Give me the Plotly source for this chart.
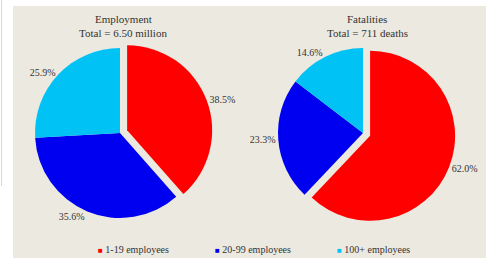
import plotly.graph_objects as go

categories = ["1-19 employees", "20-99 employees", "100+ employees"]
employment_pct = [38.5, 35.6, 25.9]
fatalities_pct = [62.0, 23.3, 14.6]
title_lines = [["Employment", "Total = 6.50 million"], ["Fatalities", "Total = 711 deaths"]]
colors = ["#FF0000", "#0000F0", "#00C2F5"]

W, H = 486, 258
R = 85
PULL = 0.09
half = R * (1 + PULL)

def dom(cx, cy):
    return dict(x=[(cx - half) / W, (cx + half) / W],
                y=[1 - (cy + half) / H, 1 - (cy - half) / H])

font_txt = dict(family="Liberation Serif", size=10, color="#333333")

fig = go.Figure()
for vals, cx in [(employment_pct, 120), (fatalities_pct, 363)]:
    fig.add_trace(go.Pie(
        labels=categories, values=vals, sort=False, direction="clockwise",
        rotation=0, pull=[PULL, 0, 0],
        marker=dict(colors=colors, line=dict(width=0)),
        text=[f"{v:.1f}%" for v in vals], textinfo="text",
        textposition="outside", outsidetextfont=font_txt,
        domain=dom(cx, 133), showlegend=False, hoverinfo="label+percent",
    ))

for lines, cx in zip(title_lines, [123, 367]):
    for j, t in enumerate(lines):
        fig.add_annotation(text=t, x=cx / W, y=1 - (19 + 14 * j) / H, xref="paper", yref="paper",
                           showarrow=False, xanchor="center", yanchor="middle",
                           font=dict(family="Liberation Serif", size=11, color="#333333"))

# legend drawn as text entries with coloured squares
for name, c, xp in zip(categories, colors, [96, 213, 335]):
    fig.add_annotation(
        text=f'<span style="color:{c};font-size:8px">■</span> {name}',
        x=xp / W, y=1 - 249 / H, xref="paper", yref="paper", showarrow=False,
        xanchor="left", yanchor="middle",
        font=dict(family="Liberation Serif", size=10, color="#333333"))

fig.update_layout(
    width=W, height=H, margin=dict(l=0, r=0, t=0, b=0, autoexpand=False),
    paper_bgcolor="white", showlegend=False,
    shapes=[
        dict(type="rect", xref="paper", yref="paper", x0=13 / W, x1=1, y0=0, y1=1 - 6 / H,
             fillcolor="#ECE9E0", line=dict(width=0), layer="below"),
        dict(type="line", xref="paper", yref="paper", x0=1.5 / W, x1=1.5 / W, y0=1 - 186 / H, y1=1,
             line=dict(color="#D8D8D8", width=1), layer="below"),
    ],
)

fig.write_html("out.html", config={"displayModeBar": False},
               post_script="document.body.style.margin='0';document.body.style.padding='0';")
